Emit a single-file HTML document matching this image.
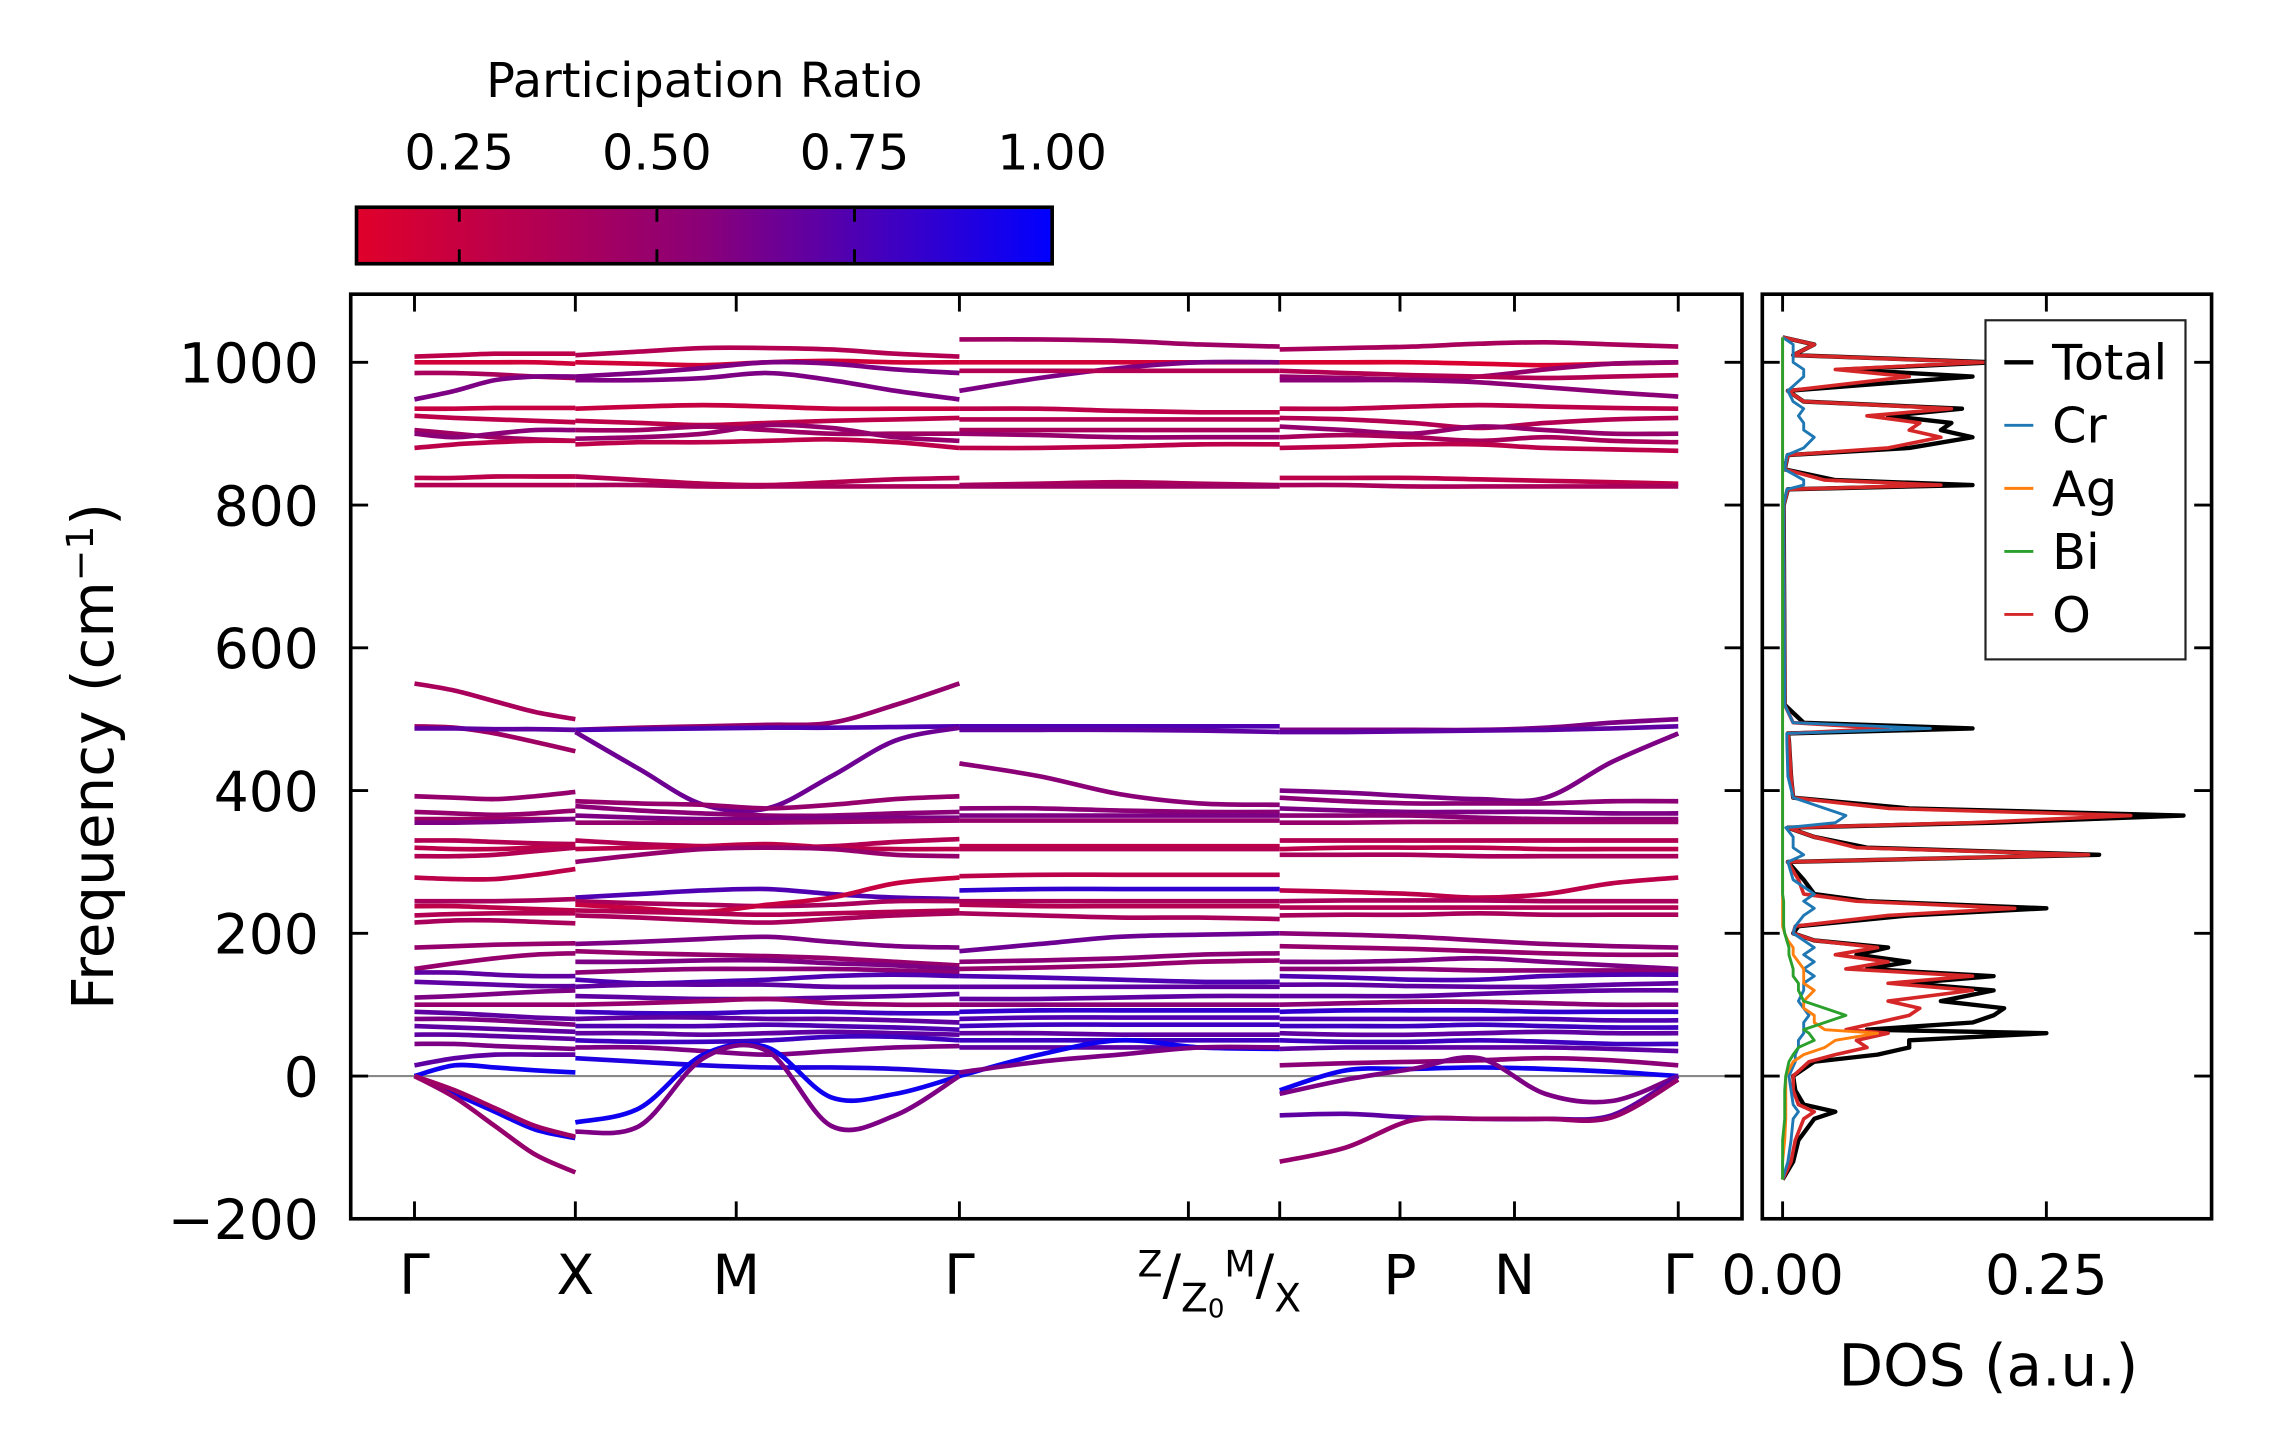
<!DOCTYPE html>
<html><head><meta charset="utf-8"><style>
html,body{margin:0;padding:0;background:#fff}
svg{display:block}
text{font-family:"DejaVu Sans","Liberation Sans",sans-serif;fill:#000}
</style></head><body>
<svg id="chart" width="2271" height="1455" viewBox="0 0 1567 1004" preserveAspectRatio="none" xmlns="http://www.w3.org/2000/svg">
<defs>
<linearGradient id="cbg" x1="0" x2="1" y1="0" y2="0">
<stop offset="0" stop-color="#e0002a"/><stop offset="0.5" stop-color="#8a0078"/><stop offset="1" stop-color="#0000ff"/>
</linearGradient>
</defs>
<g id="colorbar">
<text x="486" y="67" font-size="33" text-anchor="middle">Participation Ratio</text>
<rect x="246" y="143" width="480" height="39" fill="url(#cbg)" stroke="#000" stroke-width="2.5"/>
</g>
<g id="bands"></g>
<g id="dos"></g>
<g id="axes"></g>
</svg>
<script>
// ---- Data ----
const yTicks=[-200,0,200,400,600,800,1000];
const kLabels=["Γ","X","M","Γ","","","P","N","Γ"];
const kPos=[286,397,508,662,820,883,966,1045,1158];
const cbTicks=[0.25,0.50,0.75,1.00];
const segA=[[1008,1010,1012,1012,1012,.3],[1000,1000,1000,1000,998,.2],[985,985,983,980,978,.4],[948,960,975,980,980,.6],[935,935,936,936,936,.25],[925,922,920,918,916,.3],[905,900,895,892,890,.45],[900,895,900,905,905,.55],[880,885,888,890,890,.3],[838,838,840,840,840,.3],[828,828,828,828,828,.35],[550,540,525,510,500,.4],[490,488,480,468,455,.45],[487,487,486,486,485,.7],[392,390,388,392,398,.5],[370,368,366,368,372,.5],[360,360,360,360,360,.45],[355,355,356,358,360,.6],[330,330,328,326,325,.35],[320,318,318,320,322,.3],[308,308,310,315,320,.35],[278,276,276,282,290,.3],[245,245,245,246,248,.4],[238,238,236,234,232,.3],[225,227,228,228,228,.35],[215,218,218,216,214,.4],[180,182,184,185,186,.5],[150,158,165,170,172,.5],[145,145,142,140,140,.7],[132,130,128,126,126,.7],[110,112,115,118,120,.6],[100,100,100,100,100,.5],[90,88,85,82,80,.7],[80,80,78,75,72,.6],[70,68,66,64,62,.7],[58,58,56,54,52,.7],[45,45,42,40,38,.6],[15,25,30,30,30,.7],[0,15,12,8,5,.95],[0,-25,-50,-75,-87,.95],[0,-30,-70,-110,-135,.5],[0,-20,-45,-70,-85,.45]];
const segB=[[1010,1015,1020,1020,1018,1012,1008,.35],[1000,998,996,1000,1002,1000,1000,.2],[980,985,992,1000,998,990,985,.6],[975,975,978,985,975,960,948,.6],[935,938,940,938,935,935,935,.25],[918,915,912,915,918,920,922,.3],[905,905,910,905,900,900,900,.45],[893,895,900,912,908,895,890,.5],[885,888,888,890,892,888,880,.3],[840,835,830,828,832,836,838,.35],[828,828,826,826,826,826,826,.4],[485,488,490,492,495,520,550,.5],[485,486,487,488,488,489,490,.75],[482,430,380,375,420,470,488,.65],[385,382,380,375,380,388,392,.5],[378,372,368,365,365,368,370,.55],[365,362,360,360,362,362,362,.6],[355,355,355,355,356,357,358,.5],[330,325,322,320,322,328,332,.35],[318,320,322,325,320,318,318,.3],[300,310,318,320,318,310,308,.5],[250,255,260,262,255,250,248,.75],[245,242,240,238,240,245,245,.4],[240,235,230,240,250,270,278,.25],[232,230,228,226,228,230,232,.35],[225,222,218,215,220,225,228,.4],[185,188,192,195,188,182,180,.6],[175,172,170,168,165,160,155,.5],[160,160,162,162,158,155,150,.6],[145,148,150,150,150,148,145,.55],[135,130,132,135,140,142,140,.75],[125,128,128,128,125,125,125,.7],[112,110,108,108,110,112,115,.7],[100,102,105,108,102,100,100,.5],[90,88,88,90,90,88,88,.8],[80,82,82,80,80,78,75,.7],[70,70,70,72,70,68,65,.75],[60,60,58,60,62,60,58,.7],[50,48,48,50,55,55,50,.8],[40,40,35,30,35,40,42,.6],[25,20,15,12,12,10,5,.9],[-65,-45,30,40,-30,-25,0,.95],[-78,-70,25,35,-70,-55,0,.6]];
const segC=[[1032,1032,1030,1025,1022,.45],[1000,1000,1000,1000,1000,.2],[960,978,992,1000,1000,.6],[988,988,988,988,988,.35],[935,935,932,930,930,.3],[920,920,920,920,920,.35],[905,905,905,905,905,.4],[900,898,895,895,895,.5],[880,880,882,885,885,.3],[828,830,832,830,828,.4],[826,826,826,826,826,.45],[490,490,490,490,490,.75],[485,485,485,484,482,.7],[438,420,395,382,380,.55],[375,375,372,370,370,.55],[365,365,365,365,365,.6],[358,358,358,358,358,.5],[322,322,322,322,322,.3],[318,318,318,318,318,.35],[280,282,282,282,282,.3],[260,262,262,262,262,.85],[245,245,245,245,245,.4],[240,238,238,238,238,.35],[228,225,222,222,220,.4],[175,185,195,198,200,.65],[160,162,165,170,172,.55],[150,152,155,160,162,.5],[140,138,135,132,132,.75],[125,125,125,125,125,.7],[108,108,110,112,112,.7],[100,100,100,100,100,.55],[90,92,92,92,92,.85],[80,82,82,82,82,.75],[70,72,72,72,72,.8],[60,60,58,58,58,.7],[50,50,50,50,50,.8],[40,40,40,40,40,.7],[0,30,50,40,38,.95],[5,20,30,40,40,.6]];
const segD=[[1018,1020,1022,1026,1028,1025,1022,.4],[1000,1000,1000,998,996,998,1000,.15],[980,978,976,980,990,998,1000,.5],[988,985,982,980,978,980,982,.35],[975,975,975,972,965,958,952,.55],[935,935,938,940,938,936,935,.3],[922,920,915,908,915,920,922,.35],[910,905,900,910,905,900,900,.5],[895,898,895,890,895,890,888,.4],[880,882,885,885,880,878,876,.3],[838,838,838,836,834,832,830,.3],[828,828,826,826,826,826,826,.4],[485,485,485,485,488,495,500,.6],[482,482,483,484,485,487,490,.7],[400,397,392,388,390,440,480,.6],[390,385,382,382,382,385,385,.55],[375,372,370,370,370,368,368,.6],[365,365,365,362,360,360,360,.55],[355,355,356,356,356,356,356,.5],[330,330,330,330,330,330,330,.35],[318,320,320,320,318,318,318,.3],[310,310,310,308,308,308,308,.4],[260,258,255,250,255,270,278,.3],[245,246,246,246,245,245,245,.4],[236,236,236,236,236,236,236,.35],[225,226,226,228,226,226,226,.4],[200,198,195,190,185,182,180,.55],[182,180,178,175,172,170,170,.5],[160,160,162,165,160,155,150,.6],[150,150,150,148,148,148,148,.55],[140,138,135,135,140,142,142,.75],[128,128,126,125,125,128,130,.7],[112,112,112,115,118,120,120,.7],[100,102,104,104,102,100,100,.55],[90,92,92,92,90,90,90,.85],[80,80,80,80,80,78,78,.75],[70,70,70,72,70,68,68,.8],[60,58,58,60,62,60,60,.7],[50,48,48,50,48,45,45,.8],[38,40,40,40,40,38,35,.7],[15,18,20,22,25,22,15,.55],[-20,8,10,12,10,6,0,.95],[-25,-5,10,25,-25,-35,0,.6],[-55,-53,-58,-60,-60,-55,0,.7],[-120,-100,-62,-60,-60,-58,-5,.5]];
const segRanges=[[286,397],[397,662],[662,883],[883,1158]];
const dosFreq=[-145,-120,-90,-60,-50,-40,-20,0,20,30,40,50,60,65,75,85,95,105,120,130,140,150,160,170,180,190,200,210,225,235,245,255,275,300,310,320,335,348,355,365,375,390,420,470,480,487,495,520,800,822,828,835,850,870,880,895,905,915,925,935,945,960,980,990,1000,1010,1025,1035];
const dosTotal=[0,.01,.015,.03,.05,.02,.012,.01,.03,.09,.12,.12,.25,.08,.18,.2,.21,.15,.2,.12,.2,.08,.12,.07,.1,.03,.01,.015,.12,.25,.08,.03,.02,.005,.3,.08,.03,.005,.2,.38,.12,.01,.008,.006,.005,.18,.02,.002,.001,.005,.18,.05,.002,.005,.12,.18,.15,.16,.1,.17,.02,.005,.18,.06,.2,.01,.03,0];
const dosO=[0,.008,.012,.02,.03,.015,.01,.01,.025,.05,.08,.07,.1,.06,.09,.12,.13,.1,.18,.1,.18,.06,.1,.05,.09,.03,.01,.012,.1,.22,.07,.02,.015,.005,.29,.07,.03,.005,.18,.33,.1,.01,.008,.006,.005,.1,.01,.002,.001,.005,.15,.04,.002,.005,.1,.15,.12,.13,.08,.16,.02,.005,.12,.05,.19,.01,.03,0];
const dosCr=[0,.005,.008,.01,.015,.01,.008,.006,.012,.012,.015,.015,.02,.02,.02,.025,.02,.015,.02,.02,.03,.02,.03,.02,.03,.02,.01,.012,.02,.03,.02,.03,.01,.005,.02,.01,.01,.003,.05,.06,.04,.01,.005,.004,.004,.14,.01,.002,.001,.004,.02,.02,.002,.004,.02,.03,.02,.02,.015,.02,.01,.005,.02,.02,.01,.01,.01,0];
const dosAg=[0,0,.002,.003,.003,.003,.003,.003,.01,.02,.04,.05,.09,.04,.03,.03,.02,.02,.03,.02,.02,.02,.015,.01,.01,.005,.002,0,0,0,0,0,0,0,0,0,0,0,0,0,0,0,0,0,0,0,0,0,0,0,0,0,0,0,0,0,0,0,0,0,0,0,0,0,0,0,0,0];
const dosBi=[0,0,0,.002,.002,.002,.002,.003,.006,.01,.015,.03,.025,.02,.04,.06,.04,.02,.015,.015,.01,.01,.008,.006,.006,.004,.002,.001,.001,.001,.001,0,0,0,0,0,0,0,0,0,0,0,0,0,0,0,0,0,0,0,0,0,0,0,0,0,0,0,0,0,0,0,0,0,0,0,0,0];
const legendLabels=["Total","Cr","Ag","Bi","O"];
const dosTicks=[0.00,0.25];

// ---- Scales ----
const NS="http://www.w3.org/2000/svg";
const PX0=242,PX1=1202,PY0=203,PY1=841;
const y=v=>742.5-v*0.4925;
const dx=v=>1230+v*(182/0.25);
const cbx=v=>246+(v-0.12)/(1-0.12)*480;
function col(p){const t=Math.max(0,Math.min(1,(p-0.12)/0.88));let r,g,b;
 if(t<.5){const u=t/.5;r=224+(138-224)*u;g=0;b=42+(120-42)*u;}else{const u=(t-.5)/.5;r=138*(1-u);g=0;b=120+(255-120)*u;}
 return `rgb(${r|0},${g|0},${b|0})`;}
function el(tag,attrs,parent){const e=document.createElementNS(NS,tag);for(const k in attrs)e.setAttribute(k,attrs[k]);parent.appendChild(e);return e;}
function smooth(pts){let d=`M${pts[0][0]},${pts[0][1]}`;for(let i=0;i<pts.length-1;i++){const p0=pts[Math.max(0,i-1)],p1=pts[i],p2=pts[i+1],p3=pts[Math.min(pts.length-1,i+2)];
 const c1=[p1[0]+(p2[0]-p0[0])/6,p1[1]+(p2[1]-p0[1])/6],c2=[p2[0]-(p3[0]-p1[0])/6,p2[1]-(p3[1]-p1[1])/6];
 d+=`C${c1[0]},${c1[1]} ${c2[0]},${c2[1]} ${p2[0]},${p2[1]}`;}return d;}

const gB=document.getElementById('bands'),gD=document.getElementById('dos'),gA=document.getElementById('axes');
const gc=document.getElementById('colorbar');
cbTicks.forEach(v=>{const X=cbx(v);
 if(v<1){const t1=el('line',{x1:X,x2:X,y1:143,y2:153,stroke:'#000','stroke-width':2},gc);
 const t2=el('line',{x1:X,x2:X,y1:172,y2:182,stroke:'#000','stroke-width':2},gc);}
 const t=el('text',{x:X,y:117,'font-size':34,'text-anchor':'middle'},gc);t.textContent=v.toFixed(2);
 });

const z=el('line',{x1:PX0,x2:PX1,y1:y(0),y2:y(0),stroke:'#888','stroke-width':1.5},gB);

[segA,segB,segC,segD].forEach((seg,si)=>{const [x0,x1]=segRanges[si];
 seg.forEach(b=>{const vals=b.slice(0,-1),n=vals.length;const pts=vals.map((v,i)=>[x0+i/(n-1)*(x1-x0),y(v)]);
  const p=el('path',{d:smooth(pts),fill:'none',stroke:col(b[b.length-1]),'stroke-width':3.2},gB);
  });});

const dosSeries=[[dosTotal,'#000',3],[dosCr,'#1f77b4',2],[dosAg,'#ff7f0e',2],[dosBi,'#2ca02c',2],[dosO,'#d62728',2.5]];
const dosNames=['dos-total','dos-cr','dos-ag','dos-bi','dos-o'];
[0,4,1,2,3].forEach(i=>{const [arr,c,w]=dosSeries[i];const pts=arr.map((v,j)=>`${dx(v)},${y(dosFreq[j])}`).join(' ');
 const pl=el('polyline',{points:pts,fill:'none',stroke:c,'stroke-width':w,'stroke-linejoin':'round'},gD);
 });

const f1=el('rect',{x:PX0,y:PY0,width:PX1-PX0,height:PY1-PY0,fill:'none',stroke:'#000','stroke-width':2.5},gA);

const f2=el('rect',{x:1216,y:PY0,width:310,height:PY1-PY0,fill:'none',stroke:'#000','stroke-width':2.5},gA);

yTicks.forEach(v=>{const Y=y(v);
 [[PX0,PX0+12],[PX1-12,PX1],[1216,1228],[1514,1526]].forEach(([a,b])=>{const l=el('line',{x1:a,x2:b,y1:Y,y2:Y,stroke:'#000','stroke-width':2},gA);
  });
 const t=el('text',{x:220,y:Y+14,'font-size':38,'text-anchor':'end'},gA);t.textContent=v<0?'−'+(-v):String(v);
 });
kPos.forEach((X,i)=>{[[PY0,PY0+12],[PY1-12,PY1]].forEach(([a,b])=>{const l=el('line',{x1:X,x2:X,y1:a,y2:b,stroke:'#000','stroke-width':2},gA);
  });
 if(kLabels[i]){const t=el('text',{x:X,y:893,'font-size':38,'text-anchor':'middle'},gA);t.textContent=kLabels[i];
  }
});
const sp=el('text',{x:785,y:893,'font-size':38},gA);
sp.innerHTML='<tspan font-size="25" dy="-12">Z</tspan><tspan dy="12">/</tspan><tspan font-size="27" dy="12">Z</tspan><tspan font-size="18" dy="4">0</tspan><tspan font-size="25" dy="-28">M</tspan><tspan dy="12">/</tspan><tspan font-size="27" dy="12">X</tspan>';
dosTicks.forEach(v=>{const X=dx(v);[[PY0,PY0+12],[PY1-12,PY1]].forEach(([a,b])=>{const l=el('line',{x1:X,x2:X,y1:a,y2:b,stroke:'#000','stroke-width':2},gA);
  });
 const t=el('text',{x:X,y:893,'font-size':38,'text-anchor':'middle'},gA);t.textContent=v.toFixed(2);
 });
const yt=el('text',{x:0,y:0,'font-size':40,'text-anchor':'middle',transform:'translate(78,522) rotate(-90)'},gA);
yt.innerHTML='Frequency (cm<tspan font-size="26" dy="-14">−1</tspan><tspan dy="14">)</tspan>';

const xt=el('text',{x:1372,y:956,'font-size':40,'text-anchor':'middle'},gA);xt.textContent='DOS (a.u.)';

const lg=el('g',{},gA);
el('rect',{x:1370,y:221,width:138,height:234,fill:'#fff',stroke:'#222','stroke-width':1.5},lg);
const legendColors=['#000','#1f77b4','#ff7f0e','#2ca02c','#d62728'];
legendLabels.forEach((s,i)=>{const Y=250+i*43.5;
 const e=el('g',{},lg);
 el('line',{x1:1383,x2:1403,y1:Y,y2:Y,stroke:legendColors[i],'stroke-width':i==0?3:2},e);
 const t=el('text',{x:1416,y:Y+12,'font-size':34},e);t.textContent=s;});
</script>
</body></html>
